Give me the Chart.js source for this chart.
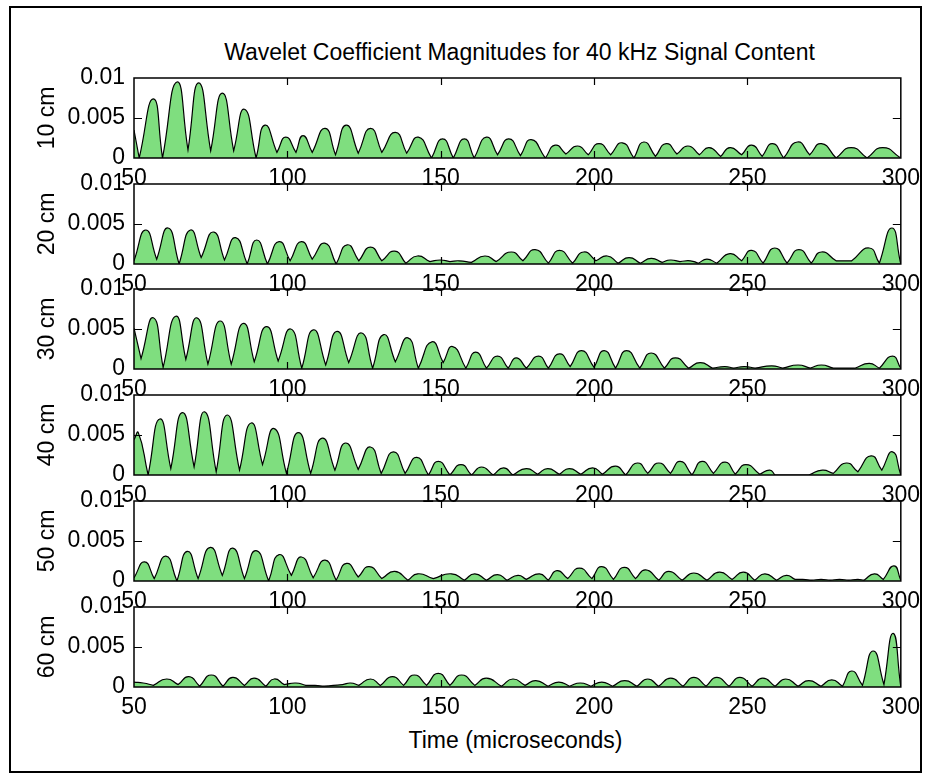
<!DOCTYPE html>
<html><head><meta charset="utf-8">
<script src="https://cdn.jsdelivr.net/npm/chart.js@4/dist/chart.umd.min.js"></script>
<style>
html,body{margin:0;padding:0;background:#fff;}
#fig{position:relative;width:927px;height:779px;background:#fff;overflow:hidden;font-family:"Liberation Sans",Arial,sans-serif;}
#frame{position:absolute;left:9px;top:6px;width:913px;height:767px;border:2px solid #000;box-sizing:border-box;}
canvas{position:absolute;left:0;}
.txt{position:absolute;font-size:23px;line-height:23px;white-space:nowrap;color:#000;text-align:center;}
</style></head>
<body><div id="fig">
<div id="frame"></div>
<div class="txt" style="left:134px;width:771px;top:41px;">Wavelet Coefficient Magnitudes for 40 kHz Signal Content</div>
<div class="txt" style="left:130px;width:771px;top:729px;">Time (microseconds)</div>
</div>
<script>
// ---- data: [time (µs), |coefficient|] at dips and peaks ----
const seriesLabels = ['10 cm','20 cm','30 cm','40 cm','50 cm','60 cm'];
const xTickValues = [50,100,150,200,250,300];
const xTickLabels = ['50','100','150','200','250','300'];
const yTickValues = [0,0.005,0.01];
const yTickLabels = ['0','0.005','0.01'];

const mag10cm = [[50,0.0035],[51.7,0],[56.3,0.0074],[59.3,0],[64.0,0.0095],[67.6,0.0010],[71.1,0.0094],[75.0,0.0009],[78.8,0.0081],[82.5,0.0009],[86.0,0.0061],[89.8,0],[92.7,0.0041],[96.6,0.0007],[99.5,0.0026],[102.8,0.0007],[105.1,0.0028],[108.1,0.0007],[112.3,0.0037],[115.7,0.0004],[119.2,0.0041],[123.1,0.0006],[127.1,0.0037],[130.8,0.0007],[135.2,0.0032],[138.9,0.0006],[142.7,0.0026],[147.0,0],[150.6,0.0024],[154.1,0],[157.7,0.0024],[160.9,0],[164.9,0.0026],[168.5,0.0004],[172.2,0.0024],[176.0,0.0003],[179.5,0.0023],[184.1,0],[187.3,0.0016],[190.8,0.0005],[194.6,0.0015],[198.1,0.0004],[201.6,0.0018],[205.4,0.0004],[209.2,0.0019],[213.0,0],[216.2,0.0020],[220.0,0.0002],[223.5,0.0018],[227.0,0.0005],[230.6,0.0015],[234.3,0.0004],[237.5,0.0013],[241.3,0.0002],[244.3,0.0013],[248.1,0.0004],[251.4,0.0016],[254.8,0.0002],[258.2,0.0018],[261.8,0],[266.3,0.0020],[270.3,0.0004],[274.1,0.0018],[278.9,0],[283.8,0.0013],[289.0,0],[294.1,0.0013],[300,0]];

const mag20cm = [[50,0.0004],[53.8,0.00425],[57.4,0.0006],[61.1,0.0045],[64.7,0],[68.4,0.00425],[71.9,0.0008],[75.9,0.0040],[79.5,0.0005],[83.1,0.0033],[86.9,0],[90.0,0.0030],[93.5,0],[97.3,0.0028],[100.9,0.0004],[104.6,0.0028],[108.1,0.0006],[112.2,0.0026],[115.9,0],[119.5,0.0024],[123.3,0.0004],[127.1,0.0021],[130.8,0.0004],[135.0,0.0016],[138.6,0.0001],[142.4,0.0010],[146.5,0.0003],[149.8,0.0005],[153,0.0003],[156,0.0004],[160,0.0002],[164.4,0.0010],[168.1,0.0003],[173.0,0.0015],[176.8,0.0004],[180.8,0.0018],[185.1,0.0001],[188.7,0.0017],[193.0,0.0001],[196.6,0.0015],[200.6,0.0004],[204.3,0.0010],[207.8,0.0001],[211.4,0.0008],[215.1,0.0001],[218.6,0.0007],[222.2,0.0002],[224.8,0.0005],[228,0.0003],[231.4,0.0004],[234,0.0001],[236.8,0.0006],[240.0,0.0001],[244.3,0.0013],[248.1,0.0004],[251.4,0.0017],[255.1,0.0001],[258.9,0.0020],[262.9,0.0001],[266.8,0.0018],[270.8,0.0001],[274.1,0.0015],[278.9,0.0004],[281,0.0004],[284,0.0004],[289.7,0.0020],[293.0,0.0001],[297.1,0.0045],[300,0]];

const mag30cm = [[50,0.0051],[52.3,0.0013],[56.3,0.0064],[59.5,0.0002],[63.6,0.0066],[66.9,0.0012],[70.5,0.0064],[74.1,0.0006],[78.1,0.0060],[81.7,0.0006],[85.7,0.0057],[89.2,0.0009],[93.2,0.0053],[97.0,0.0010],[101.1,0.0050],[104.7,0.0001],[108.5,0.0049],[112.5,0.0005],[116.2,0.0047],[120.0,0.0008],[124.2,0.0045],[127.8,0.0001],[131.4,0.0043],[135.2,0.0009],[139.3,0.0039],[142.7,0.0001],[147.1,0.0034],[150.8,0.0008],[153.9,0.0028],[158.2,0.0001],[161.4,0.0021],[164.9,0.0001],[168.5,0.0016],[172.0,0.0001],[174.6,0.0014],[177.9,0.0001],[181.9,0.0016],[185.1,0.0001],[188.7,0.0019],[192.2,0.0003],[195.9,0.0023],[200.0,0.0002],[203.3,0.0023],[207.0,0.0001],[210.6,0.0023],[214.9,0.0001],[218.6,0.0020],[222.9,0.0001],[226.5,0.0014],[230.8,0.0001],[234.6,0.0008],[238.7,0.0001],[242.6,0.0003],[245.5,0.0001],[249,0.0003],[252.5,0.0001],[257.9,0.0004],[261.5,0.0001],[266.5,0.0005],[270.5,0.0001],[274.1,0.0005],[278,0.0001],[285,0.0001],[289.7,0.0007],[293.0,0.0001],[297.3,0.0016],[300,0.0001]];

const mag40cm = [[50,0.0044],[51.4,0.0053],[54.6,0],[58.4,0.0070],[62.0,0.0008],[65.8,0.0078],[69.6,0.0010],[73.0,0.0079],[76.8,0.0004],[80.4,0.0075],[84.4,0.0006],[88.2,0.0065],[91.9,0.0013],[95.7,0.0058],[99.7,0.0002],[103.6,0.0053],[107.6,0.0002],[111.4,0.0046],[115.5,0.0006],[119.0,0.0040],[123.1,0.0007],[127.1,0.0035],[130.6,0.0002],[134.6,0.0029],[138.4,0.0002],[142.2,0.0022],[146.0,0],[149.2,0.0017],[153.0,0],[156.6,0.0013],[160.0,0],[163.3,0.0010],[167.1,0],[170.5,0.0009],[173.5,0],[177.9,0.0008],[181.6,0.0001],[184.9,0.0008],[188.7,0.0001],[191.9,0.0008],[195.7,0.0001],[199.5,0.0009],[202.7,0.0001],[207.0,0.0011],[210.3,0],[214.1,0.0015],[217.5,0.0002],[221.1,0.0015],[224.9,0.0002],[228.1,0.0017],[231.9,0],[235.2,0.0017],[238.9,0.0002],[242.7,0.0016],[246.0,0.0001],[249.5,0.0013],[254.0,0.0001],[257.3,0.0006],[259,0],[270,0],[274.4,0.0006],[278.0,0.0002],[282.2,0.0015],[286.0,0.0004],[290.3,0.0024],[293.8,0.0006],[297.3,0.0029],[300,0]];

const mag50cm = [[50,0.0004],[53.4,0.0024],[56.6,0.0003],[60.4,0.0031],[64.0,0],[67.4,0.0037],[70.9,0.0003],[74.9,0.0042],[78.8,0.0007],[82.2,0.0041],[86.0,0.0003],[89.8,0.0038],[93.9,0],[97.3,0.0033],[101.3,0.0007],[104.6,0.0030],[108.4,0.0004],[112.3,0.0026],[115.9,0.0001],[119.3,0.0022],[123.1,0.0005],[126.7,0.0018],[130.8,0.0003],[135.0,0.0012],[139.3,0.0001],[142.5,0.0009],[147.6,0.0003],[153.5,0.0009],[157.7,0.0001],[161.1,0.0009],[164.9,0.0001],[168.5,0.0008],[171.6,0.0001],[175.2,0.0007],[177.9,0.0002],[182.2,0.0009],[185.1,0.0001],[187.9,0.0013],[191.4,0.0003],[195.2,0.0016],[199.3,0.0003],[202.5,0.0018],[206.3,0.0002],[209.8,0.0017],[213.5,0.0003],[216.8,0.0014],[221.1,0.0001],[224.3,0.0012],[228.7,0.0001],[232.5,0.0010],[236.8,0.0001],[240.9,0.0011],[245.0,0.0002],[248.7,0.0011],[252.4,0.0001],[255.7,0.0009],[259.5,0.0001],[262.7,0.0007],[265.5,0.0002],[268,0.0002],[271,0.0001],[274,0.0002],[277,0.0001],[280,0.0002],[283,0.0001],[286,0.0002],[288,0.0001],[291.4,0.0009],[294.3,0.0002],[297.8,0.0019],[300,0.0001]];

const mag60cm = [[50,0.0006],[53,0.0005],[56.3,0.0002],[60.6,0.0010],[64.4,0.0003],[67.9,0.0013],[71.4,0.0001],[75.2,0.0015],[79.0,0.0001],[82.2,0.0012],[86.0,0.0002],[89.2,0.0011],[93.0,0.0001],[95.7,0.0010],[99.0,0.0003],[102.8,0.0005],[106,0.0002],[109,0.0002],[112,0.0001],[115,0.0002],[118,0.0003],[120.6,0.0005],[123.3,0.0002],[127.1,0.0010],[130.3,0.0002],[134.3,0.0013],[137.9,0.0002],[141.4,0.0015],[145.4,0.0002],[149.2,0.0017],[153.0,0.0002],[156.8,0.0015],[161.1,0.0002],[164.9,0.0011],[169.8,0.0001],[173.5,0.0010],[177.5,0.0002],[181,0.0008],[185,0.0001],[188.5,0.0006],[192,0.0001],[195.5,0.0005],[199,0.0001],[202.5,0.0006],[206,0.0001],[210,0.0008],[214,0.0001],[217.5,0.0010],[221,0.0001],[225,0.0011],[229,0.0001],[232.5,0.0012],[236.5,0.0001],[240,0.0012],[244,0.0001],[247.5,0.0012],[251.5,0.0001],[255,0.0011],[259,0.0001],[262.5,0.0010],[266.5,0.0001],[270,0.0008],[274,0.0001],[277.5,0.0009],[281,0.0001],[284,0.0020],[287.5,0.0002],[291,0.0045],[294.5,0.0003],[297.5,0.0067],[300,0]];

const allSeries = [mag10cm, mag20cm, mag30cm, mag40cm, mag50cm, mag60cm];

// ---- layout ----
const FONT = {family: '"Liberation Sans", Arial, sans-serif', size: 23};
const plotTops = [78, 184, 289, 395, 501, 607];
const PLOT_H = 80, PAD_TOP = 30, XAXIS_H = 45, LEFT_W = 134, RIGHT_PAD = 22;
const GREEN = 'rgb(127,222,127)';

// duplicate each local minimum so the spline makes a sharp cusp there (|coefficient| shape)
function toPoints(pairs) {
  const out = [];
  pairs.forEach((p, i) => {
    const pt = {x: p[0], y: p[1]};
    out.push(pt);
    const prev = pairs[i - 1], next = pairs[i + 1];
    if (prev && next && p[1] <= prev[1] && p[1] <= next[1]) out.push({x: p[0], y: p[1]});
  });
  return out;
}

const frameTicks = {
  id: 'frameTicks',
  afterDraw(chart) {
    const {ctx, chartArea: a, scales: {x, y}} = chart;
    ctx.save();
    ctx.strokeStyle = '#000';
    ctx.lineWidth = 1.5;
    ctx.strokeRect(a.left, a.top, a.right - a.left, a.bottom - a.top);
    ctx.lineWidth = 1.2;
    ctx.beginPath();
    xTickValues.slice(1, -1).forEach(v => {
      const px = Math.round(x.getPixelForValue(v)) + 0.5;
      ctx.moveTo(px, a.bottom); ctx.lineTo(px, a.bottom - 7);
      ctx.moveTo(px, a.top); ctx.lineTo(px, a.top + 7);
    });
    yTickValues.slice(1, -1).forEach(v => {
      const py = Math.round(y.getPixelForValue(v)) + 0.5;
      ctx.moveTo(a.left, py); ctx.lineTo(a.left + 8, py);
      ctx.moveTo(a.right, py); ctx.lineTo(a.right - 8, py);
    });
    ctx.stroke();
    ctx.restore();
  }
};

const fig = document.getElementById('fig');
allSeries.forEach((series, i) => {
  const cv = document.createElement('canvas');
  const H = PAD_TOP + PLOT_H + XAXIS_H;
  cv.width = 927; cv.height = H;
  cv.style.width = '927px'; cv.style.height = H + 'px';
  cv.style.top = (plotTops[i] - PAD_TOP) + 'px';
  fig.appendChild(cv);
  new Chart(cv, {
    type: 'line',
    data: {datasets: [{
      label: seriesLabels[i],
      data: toPoints(series),
      borderColor: '#000', borderWidth: 1.2,
      backgroundColor: GREEN, fill: 'origin',
      pointRadius: 0, tension: 0.55
    }]},
    options: {
      responsive: false, animation: false, devicePixelRatio: 1,
      layout: {padding: {left: 0, right: RIGHT_PAD, top: PAD_TOP, bottom: 0}},
      plugins: {legend: {display: false}, tooltip: {enabled: false}, title: {display: false}},
      scales: {
        x: {
          type: 'linear', min: 50, max: 300,
          afterBuildTicks: s => { s.ticks = xTickValues.map(v => ({value: v})); },
          afterFit: s => { s.height = XAXIS_H; },
          grid: {display: false, drawTicks: false}, border: {display: false},
          ticks: {font: FONT, color: '#000', padding: 7, autoSkip: false, maxRotation: 0,
                  callback: (v, idx) => xTickLabels[idx]}
        },
        y: {
          type: 'linear', min: 0, max: 0.01,
          afterBuildTicks: s => { s.ticks = yTickValues.map(v => ({value: v})); },
          afterFit: s => { s.width = LEFT_W; },
          grid: {display: false, drawTicks: false}, border: {display: false},
          ticks: {font: FONT, color: '#000', padding: 9, autoSkip: false,
                  callback: (v, idx) => yTickLabels[idx]},
          title: {display: true, text: seriesLabels[i], font: FONT, color: '#000', padding: {top: 34, bottom: 0}}
        }
      }
    },
    plugins: [frameTicks]
  });
});
</script>
</body></html>
